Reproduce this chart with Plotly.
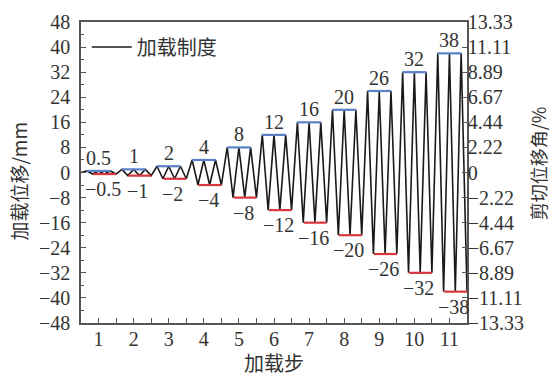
import plotly.graph_objects as go

# ---- data ----
steps = [1, 2, 3, 4, 5, 6, 7, 8, 9, 10, 11]
amplitudes = [0.5, 1, 2, 4, 8, 12, 16, 20, 26, 32, 38]   # mm
cycles_per_step = 3
left_ticks = [-48, -40, -32, -24, -16, -8, 0, 8, 16, 24, 32, 40, 48]
right_ticks = [-13.33, -11.11, -8.89, -6.67, -4.44, -2.22, 0, 2.22, 4.44, 6.67, 8.89, 11.11, 13.33]
pos_labels = ["0.5", "1", "2", "4", "8", "12", "16", "20", "26", "32", "38"]
neg_labels = ["−0.5", "−1", "−2", "−4", "−8", "−12", "−16", "−20", "−26", "−32", "−38"]

# build the loading protocol: 3 cycles per step, each step spanning one unit
xs = [steps[0] - 0.5]
ys = [0.0]
n_pts = 2 * cycles_per_step
for k, a in zip(steps, amplitudes):
    for i in range(n_pts):
        xs.append(k - 0.5 + (i + 1) / n_pts)
        ys.append(a if i % 2 == 0 else -a)

SERIF = "Liberation Serif, Times New Roman, serif"
CJK = "Noto Sans CJK SC"
TXT = "#333333"
AX = "#555555"
FS = 20

fig = go.Figure()
fig.add_trace(go.Scatter(x=xs, y=ys, mode="lines", name="加载制度",
                         line=dict(color="#1a1a1a", width=1.6)))

# blue (peak) and red (trough) markers
shapes = []
annotations = []
for k, a, pl, nl in zip(steps, amplitudes, pos_labels, neg_labels):
    shapes.append(dict(type="line", xref="x", yref="y", x0=k - 0.34, x1=k + 0.34,
                       y0=a, y1=a, line=dict(color="#5b80c8", width=2.2)))
    shapes.append(dict(type="line", xref="x", yref="y", x0=k - 0.15, x1=k + 0.5,
                       y0=-a, y1=-a, line=dict(color="#d9363e", width=2.2)))
    annotations.append(dict(x=k, y=a, xref="x", yref="y", text=pl, showarrow=False,
                            yanchor="bottom", yshift=0,
                            font=dict(family=SERIF, size=FS, color=TXT)))
    annotations.append(dict(x=k + 0.12, y=-a, xref="x", yref="y", text=nl, showarrow=False,
                            yanchor="top", yshift=-2,
                            font=dict(family=SERIF, size=FS, color=TXT)))

# axis titles
annotations.append(dict(x=-0.163, y=0.47, xref="paper", yref="paper", text="加载位移/mm",
                        textangle=-90, showarrow=False, xanchor="center", yanchor="middle",
                        font=dict(family=CJK, size=19, color=TXT)))
annotations.append(dict(x=1.186, y=0.53, xref="paper", yref="paper", text="剪切位移角/%",
                        textangle=-90, showarrow=False, xanchor="center", yanchor="middle",
                        font=dict(family=CJK, size=18, color=TXT)))
annotations.append(dict(x=0.5, y=-0.13, xref="paper", yref="paper", text="加载步",
                        showarrow=False, xanchor="center", yanchor="middle",
                        font=dict(family=CJK, size=20, color=TXT)))

# dummy trace for the right axis
fig.add_trace(go.Scatter(x=[steps[0]], y=[0], yaxis="y2", mode="markers",
                         marker=dict(opacity=0), showlegend=False, hoverinfo="skip"))

fig.update_layout(
    width=554, height=376,
    margin=dict(l=81, r=87, t=22, b=53),
    paper_bgcolor="white", plot_bgcolor="white",
    showlegend=True,
    legend=dict(x=0.015, y=0.917, xanchor="left", yanchor="middle",
                bgcolor="rgba(0,0,0,0)", font=dict(family=CJK, size=20, color=TXT),
                itemwidth=40),
    xaxis=dict(range=[0.5, 11.5], tickvals=steps, ticktext=[str(s) for s in steps],
               ticks="inside", ticklen=5, tickcolor=AX, showline=True, linecolor=AX,
               linewidth=1.5, mirror=True, showgrid=False, zeroline=False,
               ticklabelstandoff=-3,
               minor=dict(tickvals=[s + 0.5 for s in steps[:-1]], ticks="inside",
                          ticklen=5, tickcolor=AX),
               tickfont=dict(family=SERIF, size=FS, color=TXT)),
    yaxis=dict(range=[-48, 48], tickvals=left_ticks, ticks="inside", ticklen=5,
               tickcolor=AX, showline=True, linecolor=AX, linewidth=1.5,
               showgrid=False, zeroline=False, ticklabelstandoff=5,
               minor=dict(dtick=4, tick0=0, ticks="inside", ticklen=3, tickcolor=AX),
               tickfont=dict(family=SERIF, size=FS, color=TXT)),
    yaxis2=dict(range=[-13.333, 13.333], overlaying="y", side="right",
                tickvals=right_ticks,
                ticktext=[("−" + f"{abs(v):.2f}") if v < 0 else ("0" if v == 0 else f"{v:.2f}")
                          for v in right_ticks],
                ticks="inside", ticklen=5, tickcolor=AX, showline=True, linecolor=AX,
                linewidth=1.5, showgrid=False, zeroline=False, ticklabelstandoff=-5,
                tickfont=dict(family=SERIF, size=FS, color=TXT)),
    shapes=shapes,
    annotations=annotations,
)

fig.write_html("out.html")
